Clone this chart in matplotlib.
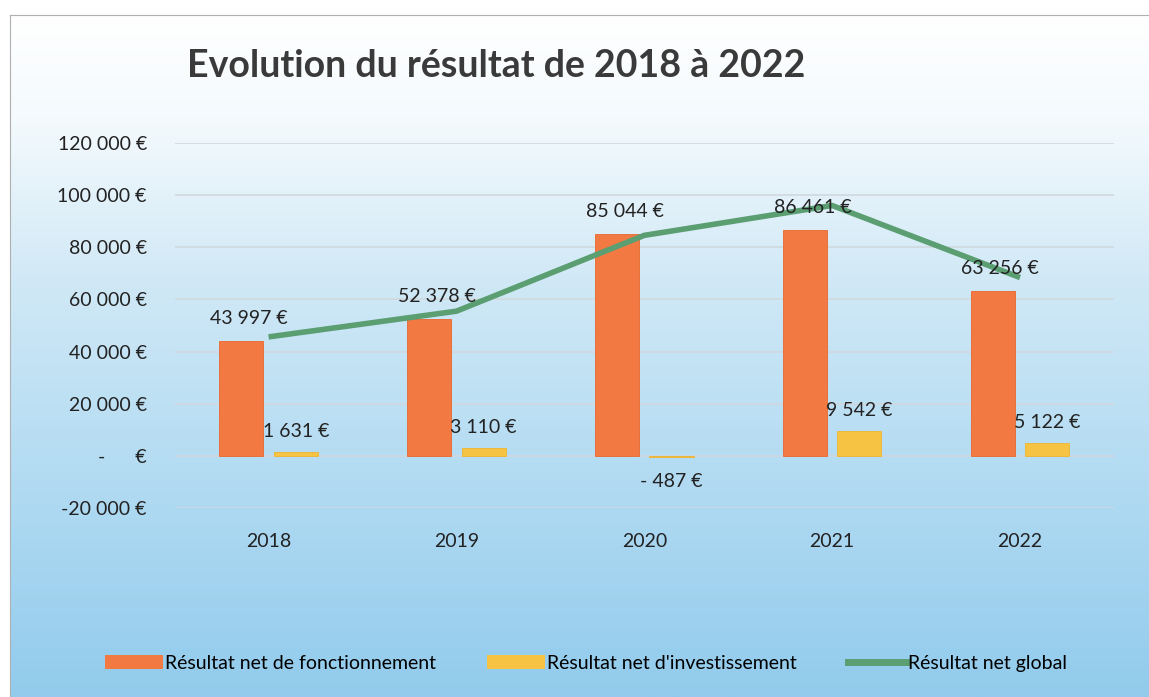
import numpy as np
import matplotlib
matplotlib.use('Agg')
import matplotlib.pyplot as plt
from matplotlib.colors import LinearSegmentedColormap
from matplotlib.lines import Line2D
from matplotlib.patches import Patch

annees = ['2018', '2019', '2020', '2021', '2022']
fonctionnement = [43997, 52378, 85044, 86461, 63256]
investissement = [1631, 3110, -487, 9542, 5122]
global_net = [f + i for f, i in zip(fonctionnement, investissement)]
yticks = [-20000, 0, 20000, 40000, 60000, 80000, 100000, 120000]

plt.rcParams['font.family'] = ['Lato', 'DejaVu Sans']

def euro(v, sep=' '):
    if v == 0:
        return '-      €'
    s = '{:,}'.format(abs(v)).replace(',', ' ')
    return ('-' + sep if v < 0 else '') + s + ' €'

fig = plt.figure(figsize=(11.49, 6.97), dpi=100)
fig.patch.set_facecolor('white')

# fond en degrade blanc -> bleu clair
bg = fig.add_axes([0.009, 0, 0.991, 0.978], zorder=0)
cmap = LinearSegmentedColormap.from_list('fond', [(0, '#ffffff'), (0.15, '#f4fafd'),
                                                   (0.4, '#cfe8f6'), (0.7, '#b0daf2'),
                                                   (1, '#92cbec')])
grad = np.linspace(0, 1, 256).reshape(-1, 1)
bg.imshow(grad, aspect='auto', cmap=cmap, extent=[0, 1, 0, 1], origin='upper')
bg.set_xticks([])
bg.set_yticks([])
for s in ['right', 'bottom']:
    bg.spines[s].set_visible(False)
for s in ['top', 'left']:
    bg.spines[s].set_color('#b0b0b0')
    bg.spines[s].set_linewidth(0.8)

ax = fig.add_axes([0.152, 0.271, 0.8175, 0.524], zorder=1)
ax.set_facecolor('none')

x = np.arange(len(annees))
w = 0.235
off = 0.145
ax.bar(x - off, fonctionnement, w, color='#f27a42', edgecolor='#e8682e', linewidth=0.6, zorder=3)
ax.bar(x + off, investissement, w, color='#f6c343', edgecolor='#eeb52e', linewidth=0.6, zorder=3)
ax.plot(x, global_net, color='#5a9e72', linewidth=4, solid_capstyle='butt', zorder=4)

for xi, v in zip(x, fonctionnement):
    ax.text(xi - off + 0.04, v + 5500, euro(v), ha='center', va='bottom', fontsize=14, color='#222222', zorder=5)
for xi, v in zip(x, investissement):
    if v >= 0:
        ax.text(xi + off, v + 4500, euro(v), ha='center', va='bottom', fontsize=14, color='#222222', zorder=5)
    else:
        ax.text(xi + off, v - 9500, euro(v), ha='center', va='center', fontsize=14, color='#222222', zorder=5)

ax.set_xlim(-0.5, len(annees) - 0.5)
ax.set_ylim(-20000, 120000)
ax.set_yticks(yticks)
ax.set_yticklabels([euro(v, sep='') for v in yticks], fontsize=14, color='#222222')
ax.set_xticks(x)
ax.set_xticklabels(annees, fontsize=14, color='#222222')
ax.tick_params(axis='both', length=0)
ax.tick_params(axis='y', pad=20)
ax.tick_params(axis='x', pad=18)
ax.grid(axis='y', color='#d0d8de', linewidth=1.2, zorder=0)
for s in ax.spines.values():
    s.set_visible(False)

fig.text(0.163, 0.905, 'Evolution du résultat de 2018 à 2022', fontsize=27, fontweight='bold',
         color='#3a3a3a', ha='left', va='center')

handles = [Patch(facecolor='#f27a42', edgecolor='none'),
           Patch(facecolor='#f6c343', edgecolor='none'),
           Line2D([0], [0], color='#5a9e72', linewidth=5)]
labels = ['Résultat net de fonctionnement', "Résultat net d'investissement", 'Résultat net global']
fig.legend(handles, labels, loc='center', bbox_to_anchor=(0.51, 0.048), ncol=3, frameon=False,
           fontsize=14, handlelength=3.0, handleheight=0.7, handletextpad=0.1, columnspacing=2.6)

fig.savefig('out.png', dpi=100)
